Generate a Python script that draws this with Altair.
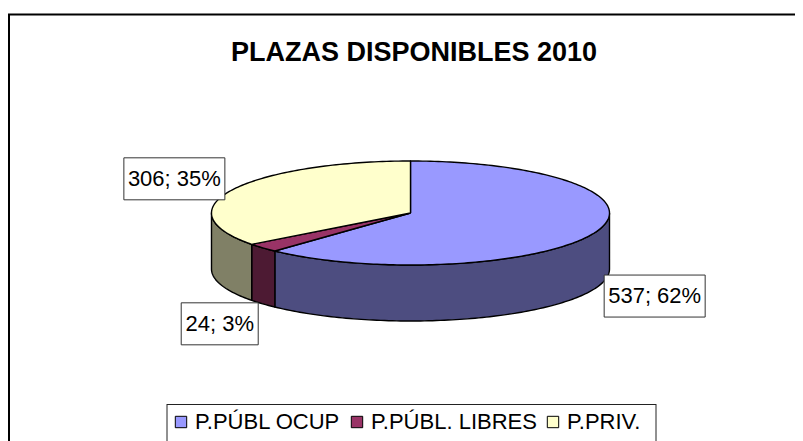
import math
import altair as alt
import pandas as pd

categories = ["P.PÚBL OCUP", "P.PÚBL. LIBRES", "P.PRIV."]
values = [537, 24, 306]
percents = ["62%", "3%", "35%"]
top_colors = ["#9999FF", "#993366", "#FFFFCC"]
side_colors = ["#4D4D80", "#4D1A33", "#808066"]
label_offsets = [(59, 64), (-43, 76), (-58, -11)]
label_widths = [101, 77, 101]
title_text = "PLAZAS DISPONIBLES 2010"

FONT = "Liberation Sans"
CX, CY, RX, RY, DEPTH = 410.5, 213, 199, 52, 56
total = sum(values)


def pt(theta, dy=0):
    return CX + RX * math.sin(theta), CY - RY * math.cos(theta) + dy


def arc(a, b, dy=0):
    n = max(2, int(abs(b - a) / 0.02))
    return [pt(a + (b - a) * k / n, dy) for k in range(n + 1)]


tops, sides, labels = [], [], []
side_names = [c + " (lateral)" for c in categories]
start = 0.0
for k, v in enumerate(values):
    end = start + v / total * 2 * math.pi
    poly = [(CX, CY)] + arc(start, end) + [(CX, CY)]
    tops += [dict(part=categories[k], i=i, x=p[0], y=p[1]) for i, p in enumerate(poly)]
    a, b = max(start, math.pi / 2), min(end, 3 * math.pi / 2)
    if a < b:
        poly = arc(a, b) + arc(b, a, DEPTH)
        poly.append(poly[0])
        sides += [dict(part=side_names[k], i=i, x=p[0], y=p[1]) for i, p in enumerate(poly)]
    mx, my = pt((start + end) / 2)
    lx, ly = mx + label_offsets[k][0], my + label_offsets[k][1]
    labels.append(dict(text=f"{v}; {percents[k]}", xc=lx, yc=ly,
                       x0=lx - label_widths[k] / 2, x1=lx + label_widths[k] / 2,
                       y0=ly - 21, y1=ly + 21))
    start = end

xs = alt.Scale(domain=[8, 795], range=[0, 787], nice=False, zero=False)
ys = alt.Scale(domain=[8, 441], range=[0, 433], nice=False, zero=False)
X = lambda f: alt.X(f, type="quantitative", scale=xs, axis=None)
Y = lambda f: alt.Y(f, type="quantitative", scale=ys, axis=None)
fill_scale = alt.Scale(domain=categories + side_names, range=top_colors + side_colors)
legend = alt.Legend(
    values=categories, title=None, orient="none", legendX=162, legendY=403,
    direction="horizontal", columns=3, symbolType="square", symbolSize=130,
    symbolStrokeColor="#000000", symbolStrokeWidth=1, labelFont=FONT, labelFontSize=22,
    labelColor="#000000", columnPadding=5, symbolOffset=0, labelOffset=3, symbolOpacity=1,
    labelLimit=300,
)


def slices(rows):
    return (
        alt.Chart(pd.DataFrame(rows))
        .mark_line(stroke="#000000", strokeWidth=1.4, strokeJoin="round")
        .encode(
            x=X("x"), y=Y("y"), order=alt.Order("i:Q"),
            fill=alt.Fill("part:N", scale=fill_scale, legend=legend),
        )
    )


lab = pd.DataFrame(labels)
boxes = alt.Chart(lab).mark_rect(fill="#FFFFFF", stroke="#333333", strokeWidth=1).encode(
    x=X("x0"), x2="x1", y=Y("y0"), y2="y1"
)
texts = alt.Chart(lab).mark_text(font=FONT, fontSize=22, color="#000000", baseline="middle", align="center").encode(
    x=X("xc"), y=Y("yc"), text="text:N"
)
title = alt.Chart(pd.DataFrame({"t": [title_text]})).mark_text(
    font=FONT, fontSize=27, fontWeight="bold", color="#000000", baseline="middle", align="center"
).encode(x=alt.value(406), y=alt.value(45), text="t:N")


def rule(x, x2, y, y2, w, color="#000000"):
    return alt.Chart(pd.DataFrame({"a": [0]})).mark_rule(strokeWidth=w, color=color).encode(
        x=alt.value(x), x2=alt.value(x2), y=alt.value(y), y2=alt.value(y2)
    )


frame = [rule(1, 1, 6, 433, 2), rule(0, 787, 6.5, 6.5, 2)]
lbox = [rule(159, 159, 396, 433, 1, "#222222"), rule(159, 648, 396.5, 396.5, 1, "#222222"), rule(648, 648, 396, 433, 1, "#222222")]

chart = alt.layer(
    *frame, title, slices(sides), slices(tops), boxes, texts, *lbox
).properties(
    width=787, height=433, padding=0, autosize=alt.AutoSizeParams(type="none"),
    view=alt.ViewConfig(stroke=None), background="#FFFFFF",
)
chart.save("out.html", embed_options={"renderer": "svg", "actions": False})
